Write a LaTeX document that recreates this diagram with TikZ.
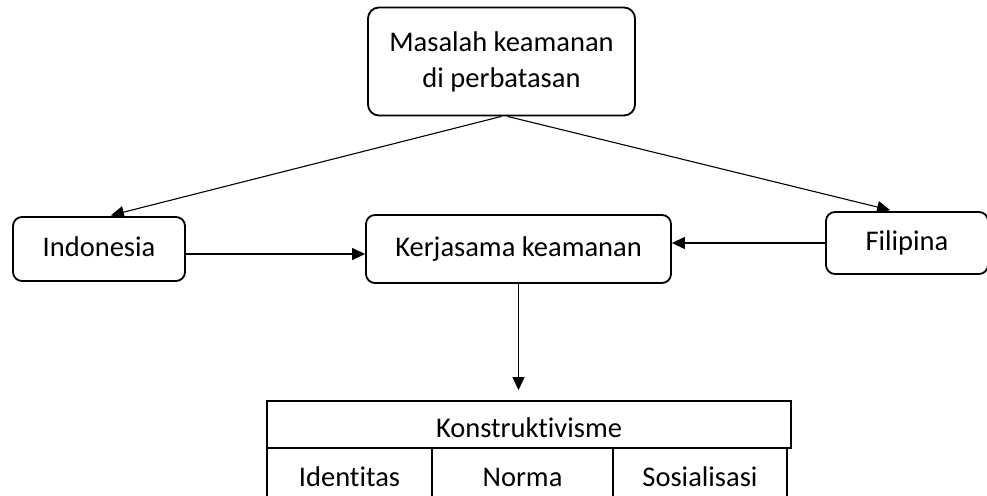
\documentclass[tikz,border=0pt]{standalone}
\usepackage{fontspec}
\setmainfont{Carlito}[Ligatures=NoCommon]
\usetikzlibrary{arrows.meta}

\begin{document}
\begin{tikzpicture}[x=1pt,y=-1pt,
  box/.style={draw, line width=1.8pt, rounded corners=9pt, align=center,
    font=\fontsize{28.5}{36}\selectfont, text height=19pt, text depth=5pt},
  cell/.style={draw, line width=1.8pt, font=\fontsize{28.5}{36}\selectfont,
    text height=26pt, text depth=0pt},
  arr/.style={line width=1.1pt, -{Triangle[length=13pt,width=12pt]}}]
\useasboundingbox (0,0) rectangle (987,495);
%
% boxes
\node[box, minimum width=267pt, minimum height=108pt, rounded corners=11pt,
  text height=, text depth=] (top) at (501.5,61.5)
  {Masalah keamanan\\di perbatasan};
\node[box, minimum width=172pt, minimum height=64pt] (ind) at (99,249) {Indonesia};
\node[box, minimum width=305pt, minimum height=68pt] (ker) at (518.5,249) {Kerjasama keamanan};
\node[box, minimum width=162pt, minimum height=62pt] (fil) at (907,243) {Filipina};
%
% table
\node[cell, minimum width=524pt, minimum height=47pt] (kon) at (529,424.5) {Konstruktivisme};
\node[cell, minimum width=165pt, minimum height=50pt] (idt) at (349.5,473) {Identitas};
\node[cell, minimum width=181pt, minimum height=50pt] (nrm) at (522.5,473) {Norma};
\node[cell, minimum width=174pt, minimum height=50pt] (sos) at (700,473) {Sosialisasi};
%
% arrows
\draw[arr, shorten >=3pt] (top.south) -- ([xshift=9pt]ind.north);
\draw[arr, shorten >=4pt] ([xshift=6pt]top.south) -- ([xshift=-13pt]fil.north);
\draw[arr] ([yshift=-5pt]ind.east) -- ([yshift=-5pt]ind.east -| ker.west);
\draw[arr] (fil.west) -- (fil.west -| ker.east);
\draw[arr, shorten >=10pt] (ker.south) -- (ker.south |- kon.north);
\end{tikzpicture}
\end{document}
